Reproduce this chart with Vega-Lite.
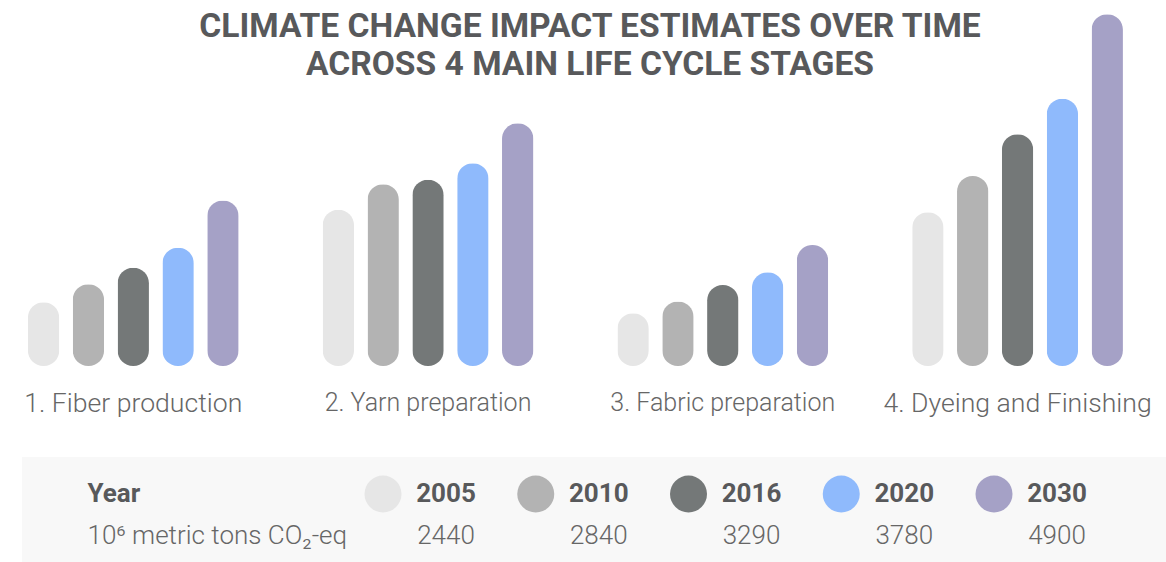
{
  "$schema": "https://vega.github.io/schema/vega-lite/v6.json",
  "padding": {"left": 22, "top": 0, "right": 0, "bottom": 0},
  "autosize": {"type": "pad"},
  "background": "white",
  "spacing": 91,
  "bounds": "flush",
  "config": {"font": "Roboto", "view": {"stroke": null}},
  "datasets": {
    "bars": [
      {"stage": "1. Fiber production", "year": "2005", "value": 350},
      {"stage": "1. Fiber production", "year": "2010", "value": 450},
      {"stage": "1. Fiber production", "year": "2016", "value": 540},
      {"stage": "1. Fiber production", "year": "2020", "value": 650},
      {"stage": "1. Fiber production", "year": "2030", "value": 910},
      {"stage": "2. Yarn preparation", "year": "2005", "value": 860},
      {"stage": "2. Yarn preparation", "year": "2010", "value": 1000},
      {"stage": "2. Yarn preparation", "year": "2016", "value": 1025},
      {"stage": "2. Yarn preparation", "year": "2020", "value": 1115},
      {"stage": "2. Yarn preparation", "year": "2030", "value": 1335},
      {"stage": "3. Fabric preparation", "year": "2005", "value": 290},
      {"stage": "3. Fabric preparation", "year": "2010", "value": 355},
      {"stage": "3. Fabric preparation", "year": "2016", "value": 445},
      {"stage": "3. Fabric preparation", "year": "2020", "value": 515},
      {"stage": "3. Fabric preparation", "year": "2030", "value": 665},
      {"stage": "4. Dyeing and Finishing", "year": "2005", "value": 845},
      {"stage": "4. Dyeing and Finishing", "year": "2010", "value": 1045},
      {"stage": "4. Dyeing and Finishing", "year": "2016", "value": 1275},
      {"stage": "4. Dyeing and Finishing", "year": "2020", "value": 1470},
      {"stage": "4. Dyeing and Finishing", "year": "2030", "value": 1935}
    ],
    "totals": [
      {"year": "2005", "total": 2440},
      {"year": "2010", "total": 2840},
      {"year": "2016", "total": 3290},
      {"year": "2020", "total": 3780},
      {"year": "2030", "total": 4900}
    ]
  },
  "vconcat": [
    {
      "width": 1144,
      "height": 366,
      "title": {
        "text": ["CLIMATE CHANGE IMPACT ESTIMATES OVER TIME", "ACROSS 4 MAIN LIFE CYCLE STAGES"],
        "font": "Roboto",
        "fontWeight": "bold",
        "fontSize": 33.6,
        "color": "#58595b",
        "anchor": "middle",
        "frame": "group",
        "offset": -82,
        "lineHeight": 38.5,
        "dx": -4
      },
      "data": {"name": "bars"},
      "mark": {"type": "bar", "cornerRadius": 15.5},
      "encoding": {
        "x": {
          "field": "stage", "type": "nominal", "sort": null,
          "scale": {"paddingInner": 0.285, "paddingOuter": 0.083, "align": 0.12},
          "axis": {
            "title": null, "domain": false, "ticks": false, "tickSize": 0,
            "labelFont": "Roboto",
            "labelFontSize": {"condition": {"test": "indexof(datum.value, 'preparation') >= 0", "value": 25}, "value": 26.6},
            "labelFontWeight": 300,
            "labelColor": "#666666", "labelAngle": 0, "labelPadding": 24,
            "labelLimit": 0, "labelOverlap": false
          }
        },
        "xOffset": {"field": "year", "type": "nominal", "sort": null, "scale": {"paddingInner": 0.3, "paddingOuter": 0}},
        "y": {"field": "value", "type": "quantitative", "scale": {"domain": [0, 2013], "nice": false, "zero": true}, "axis": null},
        "color": {
          "field": "year", "type": "nominal",
          "scale": {"domain": ["2005", "2010", "2016", "2020", "2030"], "range": ["#e6e6e6", "#b3b3b3", "#747878", "#8fbafc", "#a5a1c6"]},
          "legend": null
        }
      }
    },
    {
      "width": 1144,
      "height": 105,
      "view": {"fill": "#f8f8f8", "stroke": null},
      "data": {"name": "totals"},
      "encoding": {
        "x": {"field": "year", "type": "ordinal", "sort": null, "scale": {"type": "point", "padding": 0, "range": [424, 1035]}, "axis": null}
      },
      "layer": [
        {
          "mark": {"type": "point", "filled": true, "size": 1369, "opacity": 1, "shape": "circle", "xOffset": -63},
          "encoding": {
            "y": {
              "datum": "Year", "type": "nominal",
              "scale": {"type": "point", "domain": ["Year", "10⁶ metric tons CO₂-eq"], "padding": 0.75, "align": 0.587},
              "axis": {
                "title": null, "domain": false, "ticks": false, "tickSize": 0,
                "labelAlign": "left", "labelPadding": -65, "labelBaseline": "middle",
                "labelFont": "Roboto", "labelFontSize": 26, "labelLimit": 0,
                "labelFontWeight": {"condition": {"test": "datum.value === 'Year'", "value": "bold"}, "value": 300},
                "labelColor": {"condition": {"test": "datum.value === 'Year'", "value": "#58595b"}, "value": "#666666"}
              }
            },
            "color": {
              "field": "year", "type": "nominal",
              "scale": {"domain": ["2005", "2010", "2016", "2020", "2030"], "range": ["#e6e6e6", "#b3b3b3", "#747878", "#8fbafc", "#a5a1c6"]},
              "legend": null
            }
          }
        },
        {
          "mark": {"type": "text", "font": "Roboto", "fontSize": 26, "fontWeight": "bold", "color": "#58595b", "align": "center", "baseline": "middle"},
          "encoding": {
            "y": {"datum": "Year", "type": "nominal"},
            "text": {"field": "year", "type": "nominal"}
          }
        },
        {
          "mark": {"type": "text", "font": "Roboto", "fontSize": 26, "fontWeight": 300, "color": "#666666", "align": "center", "baseline": "middle"},
          "encoding": {
            "y": {"datum": "10⁶ metric tons CO₂-eq", "type": "nominal"},
            "text": {"field": "total", "type": "quantitative", "format": "d"}
          }
        }
      ]
    }
  ]
}
